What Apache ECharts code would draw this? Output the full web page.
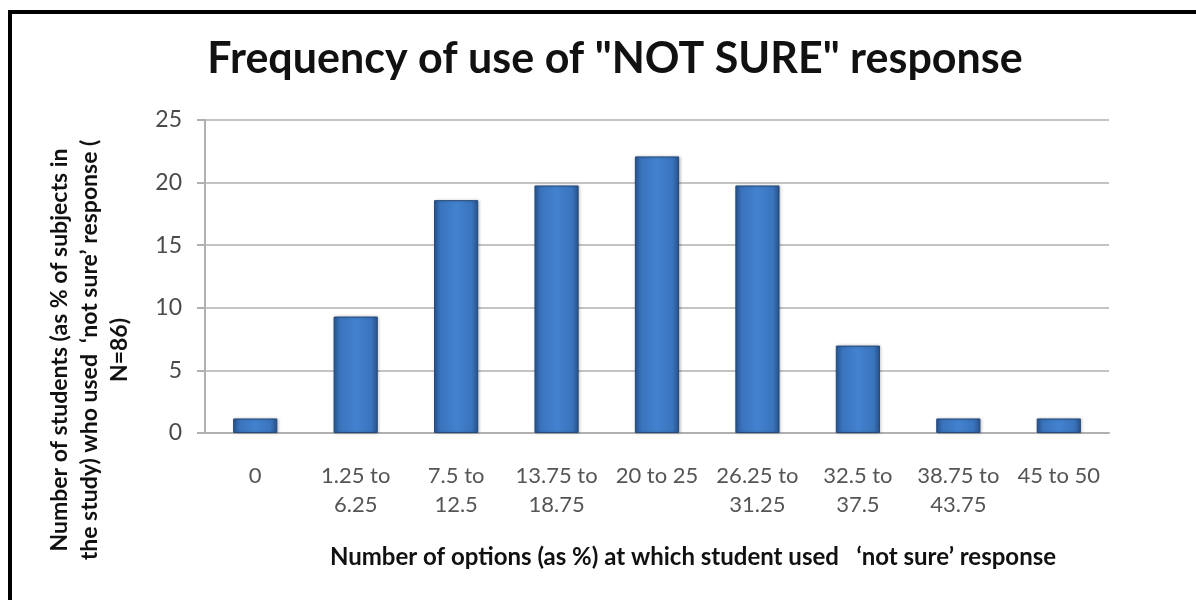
<!DOCTYPE html>
<html>
<head>
<meta charset="utf-8">
<script src="https://cdn.jsdelivr.net/npm/echarts@6/dist/echarts.min.js"></script>
<style>
  html, body { margin: 0; padding: 0; background: #fff; }
  #main { width: 1196px; height: 600px; }
</style>
</head>
<body>
<div id="main"></div>
<script>
// categories on the x axis (two-line labels as in the source chart)
var categories = ['0', '1.25 to\n6.25', '7.5 to\n12.5', '13.75 to\n18.75', '20 to 25',
    '26.25 to\n31.25', '32.5 to\n37.5', '38.75 to\n43.75', '45 to 50'];
// % of students (N=86)
var percents = [1.16, 9.3, 18.6, 19.77, 22.09, 19.77, 6.98, 1.16, 1.16];

var chartTitle = 'Frequency of use of "NOT SURE" response';
var yName = 'Number of students (as % of subjects in\nthe study) who used  \u2018not sure\u2019 response (\nN=86)';
var xName = 'Number of options (as %) at which student used   \u2018not sure\u2019 response';

var font = 'Lato';
var myChart = echarts.init(document.getElementById('main'));

var option = {
    backgroundColor: '#fff',
    animation: false,
    title: {
        text: chartTitle,
        left: 610,
        top: 33,
        textAlign: 'center',
        textStyle: {
            fontFamily: font,
            fontSize: 43,
            fontWeight: 'bold',
            color: '#111'
        }
    },
    graphic: [{
        // frame: only top and left edges are visible in the picture
        type: 'rect',
        shape: { x: 10, y: 12, width: 1300, height: 700 },
        style: { fill: 'none', stroke: '#000', lineWidth: 4 }
    }, {
        type: 'text',
        x: 90,
        y: 350,
        rotation: Math.PI / 2,
        style: {
            text: yName,
            fontFamily: font,
            fontSize: 23,
            fontWeight: 'bold',
            lineHeight: 30,
            fill: '#111',
            align: 'center',
            verticalAlign: 'middle'
        }
    }],
    grid: {
        left: 205,
        right: 87,
        top: 120,
        bottom: 167
    },
    xAxis: {
        type: 'category',
        data: categories,
        name: xName,
        nameLocation: 'middle',
        nameGap: 112,
        nameTextStyle: {
            fontFamily: font,
            fontSize: 24,
            fontWeight: 'bold',
            color: '#111',
            padding: [0, 0, 0, 72]
        },
        axisLine: { lineStyle: { color: '#b0b0b0', width: 2 } },
        axisTick: { show: false },
        axisLabel: {
            interval: 0,
            margin: 28,
            fontFamily: font,
            fontSize: 22,
            lineHeight: 29,
            color: '#555'
        }
    },
    yAxis: {
        type: 'value',
        min: 0,
        max: 25,
        interval: 5,
        axisLine: { show: true, lineStyle: { color: '#b0b0b0', width: 2 } },
        axisTick: { show: true, length: 8, lineStyle: { color: '#b0b0b0', width: 2 } },
        axisLabel: {
            margin: 23,
            fontFamily: font,
            fontSize: 23,
            color: '#4a4a4a'
        },
        splitLine: { lineStyle: { color: '#c4c4c4', width: 2 } }
    },
    series: [{
        type: 'bar',
        data: percents,
        barWidth: '44%',
        itemStyle: {
            color: new echarts.graphic.LinearGradient(0, 0, 1, 0, [
                { offset: 0, color: '#2a5895' },
                { offset: 0.15, color: '#3a74bd' },
                { offset: 0.5, color: '#4282cf' },
                { offset: 0.85, color: '#3a74bd' },
                { offset: 1, color: '#28538c' }
            ]),
            borderColor: '#24497a',
            borderWidth: 1,
            shadowColor: 'rgba(0,0,0,0.25)',
            shadowBlur: 3,
            shadowOffsetX: 1
        }
    }]
};
myChart.setOption(option);
</script>
</body>
</html>
